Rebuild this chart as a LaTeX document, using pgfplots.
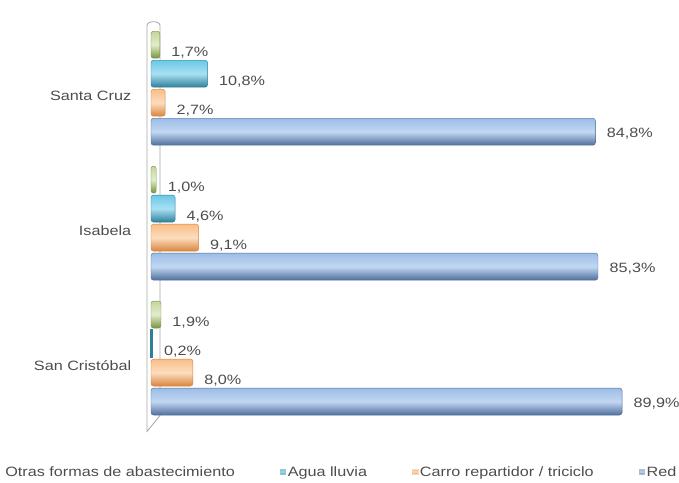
\documentclass[border=0pt]{standalone}
\usepackage{fontspec}
\setmainfont{Liberation Sans}
\usepackage{pgfplots}
\pgfplotsset{compat=1.18}
\usepackage{graphicx}

\definecolor{txt}{HTML}{4D4D4D}
\definecolor{wall}{HTML}{A6A6A6}
\definecolor{grnD}{HTML}{77933C}
\definecolor{grnM}{HTML}{C3D69B}
\definecolor{grnL}{HTML}{E2ECCB}
\definecolor{cyaD}{HTML}{2E7F9A}
\definecolor{cyaM}{HTML}{6CC8E6}
\definecolor{cyaL}{HTML}{A8E0F2}
\definecolor{oraD}{HTML}{D9843C}
\definecolor{oraM}{HTML}{F8BE88}
\definecolor{oraL}{HTML}{FCDDBE}
\definecolor{bluD}{HTML}{4F6E9C}
\definecolor{bluM}{HTML}{9DBDE6}
\definecolor{bluL}{HTML}{C2D7F2}

\newcommand{\wx}[1]{\scalebox{1.2}[1]{#1}}

% one addplot per bar so that each bar gets its own shading
\pgfplotsset{
    cyl/.style={rounded corners=2.5pt},
    sgrn/.style={cyl, bar shift=43.5pt, draw=grnD, top color=grnM, bottom color=grnD, middle color=grnL},
    scya/.style={cyl, bar shift=14.5pt, draw=cyaD, top color=cyaM, bottom color=cyaD, middle color=cyaL},
    sora/.style={cyl, bar shift=-14.5pt, draw=oraD, top color=oraM, bottom color=oraD, middle color=oraL},
    sblu/.style={cyl, bar shift=-43.5pt, draw=bluD, top color=bluM, bottom color=bluD, middle color=bluL,
        every node near coord/.append style={yshift=6pt}},
}

\begin{document}
\begin{tikzpicture}
\useasboundingbox (0,0) rectangle (679pt,482pt);
\clip (0,0) rectangle (679pt,482pt);
\begin{axis}[
    at={(151pt,56.5pt)}, anchor=south west,
    scale only axis,
    width=524pt, height=402pt,
    xbar, bar width=27pt,
    xmin=0, xmax=100,
    ymin=0.5, ymax=3.48,
    hide x axis,
    axis y line*=left,
    y axis line style={draw=none},
    ytick={1,2,3},
    yticklabels={\wx{San Cristóbal},\wx{Isabela},\wx{Santa Cruz}},
    yticklabel style={font=\fontsize{13.5}{15}\selectfont, text=txt, xshift=-12pt, yshift=-8pt},
    ytick style={draw=none},
    clip=false,
    /pgf/number format/assume math mode=true,
    nodes near coords={\wx{\pgfmathprintnumber[fixed,zerofill,precision=1,use comma]{\pgfplotspointmeta}\%}},
    every node near coord/.append style={font=\fontsize{13.5}{15}\selectfont, text=txt, anchor=west, xshift=8pt, yshift=-8pt, rounded corners=0pt},
    legend columns=4,
    legend style={at={(axis description cs:-0.288,-0.1157)}, anchor=west, draw=none, fill=none,
        font=\fontsize{13.5}{15}\selectfont, text=txt,
        /tikz/every even column/.append style={column sep=43.5pt}},
]
\draw[wall, line width=0.8pt]
    ([xshift=-4pt,yshift=-6pt]rel axis cs:0,0) -- ([xshift=-4pt,yshift=-2pt]rel axis cs:0,1)
    to[out=90,in=90] ([xshift=9pt,yshift=-2pt]rel axis cs:0,1)
    -- ([xshift=9pt,yshift=10pt]rel axis cs:0,0) -- cycle;

\addplot[sgrn, legend image code/.code={}] coordinates {(1.7,3)};
\addlegendentry{\wx{Otras formas de abastecimiento}}
\addplot[sgrn, forget plot] coordinates {(1.0,2)};
\addplot[sgrn, forget plot] coordinates {(1.9,1)};

\addplot[scya, legend image code/.code={\fill[cyaD!45!white, sharp corners] (0pt,-2.5pt) rectangle (5pt,2.5pt);}]
    coordinates {(10.8,3)};
\addlegendentry{\wx{Agua lluvia}}
\addplot[scya, forget plot] coordinates {(4.6,2)};
\addplot[scya, forget plot, sharp corners, fill=cyaD, line width=1.5pt] coordinates {(0.2,1)};

\addplot[sora, legend image code/.code={\fill[oraM!60!white, sharp corners] (0pt,-2.5pt) rectangle (5pt,2.5pt);}]
    coordinates {(2.7,3)};
\addlegendentry{\wx{Carro repartidor / triciclo}}
\addplot[sora, forget plot] coordinates {(9.1,2)};
\addplot[sora, forget plot] coordinates {(8.0,1)};

\addplot[sblu, legend image code/.code={\fill[bluD!45!white, sharp corners] (0pt,-2.5pt) rectangle (5pt,2.5pt);}]
    coordinates {(84.8,3)};
\addlegendentry{\wx{Red pública}}
\addplot[sblu, forget plot] coordinates {(85.3,2)};
\addplot[sblu, forget plot] coordinates {(89.9,1)};
\end{axis}
\end{tikzpicture}
\end{document}
